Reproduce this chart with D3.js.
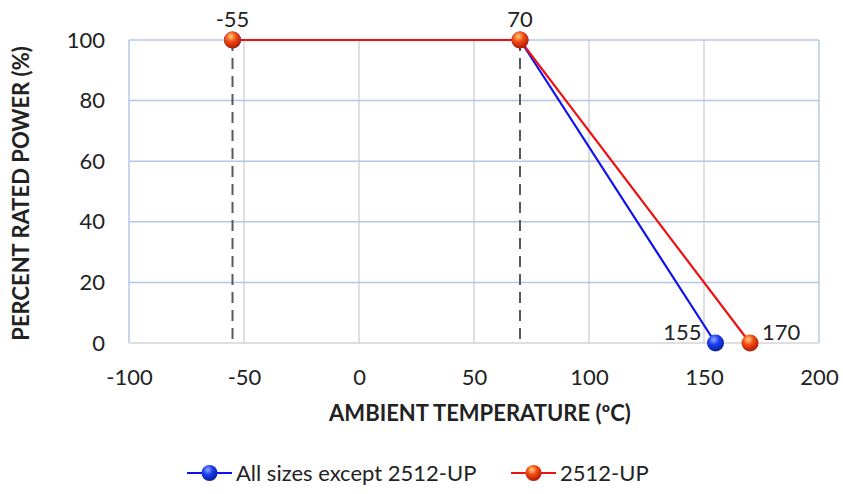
<!DOCTYPE html>
<html>
<head>
<meta charset="utf-8">
<script src="https://cdn.jsdelivr.net/npm/d3@7"></script>
<style>
  body { margin: 0; background: #fff; }
  text { font-family: Lato, "Open Sans", sans-serif; fill: #222; }
</style>
</head>
<body>
<div id="chart"></div>
<script>
const xTicks = [-100, -50, 0, 50, 100, 150, 200]
const yTicks = [0, 20, 40, 60, 80, 100]
const allSizesTemp = [-55, 70, 155]
const allSizesPower = [100, 100, 0]
const upTemp = [-55, 70, 170]
const upPower = [100, 100, 0]
const markerLines = [-55, 70]
const seriesNames = ['All sizes except 2512-UP', '2512-UP']

const width = 843
const height = 494
const margin = {top: 40, right: 24, bottom: 151, left: 129}
const w = width - margin.left - margin.right
const h = height - margin.top - margin.bottom

const svg = d3.select('#chart').append('svg')
  .attr('width', width)
  .attr('height', height)

const defs = svg.append('defs')
function gloss(id, light, mid, dark) {
  const g = defs.append('radialGradient')
    .attr('id', id)
    .attr('cx', '40%').attr('cy', '30%').attr('r', '70%')
  g.append('stop').attr('offset', '0%').attr('stop-color', light)
  g.append('stop').attr('offset', '45%').attr('stop-color', mid)
  g.append('stop').attr('offset', '100%').attr('stop-color', dark)
}
gloss('gBlue', '#8fa8ff', '#1a3cf0', '#0b1f9a')
gloss('gRed', '#ffd27a', '#f24a12', '#b01a05')

const x = d3.scaleLinear().domain([-100, 200]).range([0, w])
const y = d3.scaleLinear().domain([0, 100]).range([h, 0])

const g = svg.append('g')
  .attr('transform', 'translate(' + margin.left + ',' + margin.top + ')')

// vertical gridlines
g.selectAll('.vgrid').data(xTicks.slice(1, -1)).enter().append('line')
  .attr('x1', d => x(d)).attr('x2', d => x(d))
  .attr('y1', 0).attr('y2', h)
  .attr('stroke', '#d4d4d4').attr('stroke-width', 1.5)

// horizontal gridlines
g.selectAll('.hgrid').data(yTicks.slice(1)).enter().append('line')
  .attr('x1', 0).attr('x2', w)
  .attr('y1', d => y(d)).attr('y2', d => y(d))
  .attr('stroke', '#b4c7e7').attr('stroke-width', 1.5)

// frame
g.append('line').attr('x1', 0).attr('x2', 0).attr('y1', 0).attr('y2', h)
  .attr('stroke', '#b4c7e7').attr('stroke-width', 1.5)
g.append('line').attr('x1', w).attr('x2', w).attr('y1', 0).attr('y2', h)
  .attr('stroke', '#b4c7e7').attr('stroke-width', 1.5)
g.append('line').attr('x1', 0).attr('x2', w).attr('y1', h).attr('y2', h)
  .attr('stroke', '#d4d4d4').attr('stroke-width', 1.5)

// axes
const xAxis = g.append('g')
  .attr('transform', 'translate(0,' + h + ')')
  .call(d3.axisBottom(x).tickValues(xTicks).tickFormat(d => String(d))
    .tickSize(0).tickPadding(26))
const yAxis = g.append('g')
  .call(d3.axisLeft(y).tickValues(yTicks).tickFormat(d => String(d))
    .tickSize(0).tickPadding(24))
;[xAxis, yAxis].forEach(a => {
  a.select('.domain').remove()
  a.selectAll('text').style('font-size', '22px').attr('fill', '#222')
    .style('font-family', 'Lato, sans-serif')
})

// dashed drop lines
g.selectAll('.drop').data(markerLines).enter().append('line')
  .attr('x1', d => x(d)).attr('x2', d => x(d))
  .attr('y1', y(100)).attr('y2', y(0))
  .attr('stroke', '#595959').attr('stroke-width', 2)
  .attr('stroke-dasharray', '11,7')

const line = d3.line().x(d => x(d[0])).y(d => y(d[1]))
const blueData = d3.zip(allSizesTemp, allSizesPower)
const redData = d3.zip(upTemp, upPower)

g.append('path').datum(blueData).attr('d', line)
  .attr('fill', 'none').attr('stroke', '#1010f0').attr('stroke-width', 2.2)
g.append('path').datum(redData).attr('d', line)
  .attr('fill', 'none').attr('stroke', '#f01010').attr('stroke-width', 2.2)

g.selectAll('.mb').data(blueData).enter().append('circle')
  .attr('cx', d => x(d[0])).attr('cy', d => y(d[1])).attr('r', 8.5)
  .attr('fill', 'url(#gBlue)')
g.selectAll('.mr').data(redData).enter().append('circle')
  .attr('cx', d => x(d[0])).attr('cy', d => y(d[1])).attr('r', 8.5)
  .attr('fill', 'url(#gRed)')

// data labels
const labels = [
  {t: -55, p: 100, text: '-55', dx: 0, dy: -13, anchor: 'middle'},
  {t: 70, p: 100, text: '70', dx: 0, dy: -13, anchor: 'middle'},
  {t: allSizesTemp[2], p: 0, text: '155', dx: -14, dy: -3, anchor: 'end'},
  {t: upTemp[2], p: 0, text: '170', dx: 12, dy: -3, anchor: 'start'}
]
g.selectAll('.dl').data(labels).enter().append('text')
  .attr('x', d => x(d.t) + d.dx).attr('y', d => y(d.p) + d.dy)
  .attr('text-anchor', d => d.anchor)
  .style('font-size', '22px')
  .text(d => d.text)

// axis titles
svg.append('text')
  .attr('x', margin.left + w / 2 + 6).attr('y', 421)
  .attr('text-anchor', 'middle')
  .style('font-size', '22px').style('font-weight', 'bold')
  .text('AMBIENT TEMPERATURE (ºC)')
svg.append('text')
  .attr('transform', 'translate(29,' + (margin.top + h / 2 + 2) + ') rotate(-90)')
  .attr('text-anchor', 'middle')
  .style('font-size', '22px').style('font-weight', 'bold')
  .text('PERCENT RATED POWER (%)')

// legend
const legend = svg.append('g').attr('transform', 'translate(0,473)')
const items = [
  {name: seriesNames[0], x0: 187, stroke: '#1010f0', fill: 'url(#gBlue)'},
  {name: seriesNames[1], x0: 511, stroke: '#f01010', fill: 'url(#gRed)'}
]
const li = legend.selectAll('.li').data(items).enter().append('g')
  .attr('transform', d => 'translate(' + d.x0 + ',0)')
li.append('line').attr('x1', 0).attr('x2', 45)
  .attr('stroke', d => d.stroke).attr('stroke-width', 2.2)
li.append('circle').attr('cx', 22.5).attr('r', 8).attr('fill', d => d.fill)
li.append('text').attr('x', 49).attr('dy', '0.35em')
  .style('font-size', '22px').text(d => d.name)
</script>
</body>
</html>
